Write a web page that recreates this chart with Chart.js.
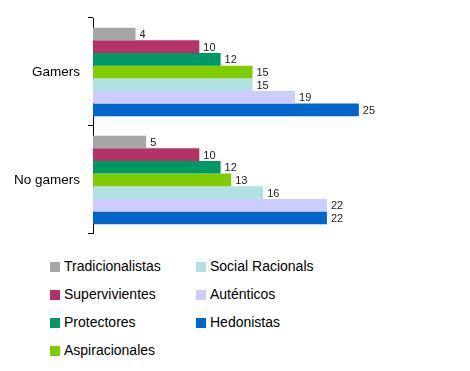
<!DOCTYPE html>
<html>
<head>
<meta charset="utf-8">
<script src="https://cdn.jsdelivr.net/npm/chart.js@4"></script>
<style>
  body { margin: 0; background: #fff; font-family: Arial, "Liberation Sans", sans-serif; }
  #wrap { position: relative; width: 470px; height: 371px; }
  #chart { position: absolute; left: 0; top: 0; }
  .leg { position: absolute; font-size: 14px; color: #000; line-height: 16px; white-space: nowrap; }
  .leg span { display: inline-block; width: 10px; height: 10px; margin-right: 4px; vertical-align: -1px; }
</style>
</head>
<body>
<div id="wrap">
  <canvas id="chart" width="470" height="250"></canvas>
  <div id="legend"></div>
</div>
<script>
const categories = ['Gamers', 'No gamers'];
const seriesNames = ['Tradicionalistas', 'Supervivientes', 'Protectores', 'Aspiracionales', 'Social Racionals', 'Auténticos', 'Hedonistas'];
const tradicionalistas = [4, 5];
const supervivientes = [10, 10];
const protectores = [12, 12];
const aspiracionales = [15, 13];
const socialRacionals = [15, 16];
const autenticos = [19, 22];
const hedonistas = [25, 22];
const colors = ['#a6a6a6', '#b33366', '#009966', '#80cc00', '#b0e2e4', '#ccccff', '#0066cc'];

const values = [tradicionalistas, supervivientes, protectores, aspiracionales, socialRacionals, autenticos, hedonistas];

const valueLabels = {
    id: 'valueLabels',
    afterDatasetsDraw: (chart) => {
        const ctx = chart.ctx;
        ctx.save();
        ctx.font = '11px Arial, "Liberation Sans", sans-serif';
        ctx.fillStyle = '#222';
        ctx.textBaseline = 'middle';
        chart.data.datasets.forEach((ds, i) => {
            chart.getDatasetMeta(i).data.forEach((bar, j) => {
                ctx.fillText(ds.data[j], bar.x + 4, bar.y + 1);
            });
        });
        ctx.restore();
    }
};

const ctx = document.getElementById('chart').getContext('2d');
const myChart = new Chart(ctx, {
    type: 'bar',
    data: {
        labels: categories,
        datasets: seriesNames.map((name, i) => ({
            label: name,
            data: values[i],
            backgroundColor: colors[i],
            borderWidth: 0,
            barPercentage: 1.0,
            categoryPercentage: 0.82
        }))
    },
    options: {
        indexAxis: 'y',
        responsive: false,
        animation: false,
        layout: { padding: { top: 18, bottom: 12, right: 58, left: 0 } },
        plugins: { legend: { display: false }, tooltip: { enabled: false } },
        scales: {
            x: { display: false, min: 0, max: 30 },
            y: {
                afterFit: (scale) => { scale.width = 93; },
                grid: { drawOnChartArea: false, offset: true, tickLength: 5, color: '#000' },
                border: { color: '#000', width: 1 },
                ticks: { color: '#000', padding: 8, font: { family: 'Arial, "Liberation Sans", sans-serif', size: 13.5 } }
            }
        }
    },
    plugins: [valueLabels]
});

// legend in two columns, filled top to bottom
const legend = document.getElementById('legend');
seriesNames.forEach((name, i) => {
    const col = i < 4 ? 0 : 1;
    const row = i < 4 ? i : i - 4;
    const d = document.createElement('div');
    d.className = 'leg';
    d.style.left = (col === 0 ? 50 : 196) + 'px';
    d.style.top = (258 + row * 28) + 'px';
    d.innerHTML = '<span style="background:' + colors[i] + '"></span>' + name;
    legend.appendChild(d);
});
</script>
</body>
</html>
